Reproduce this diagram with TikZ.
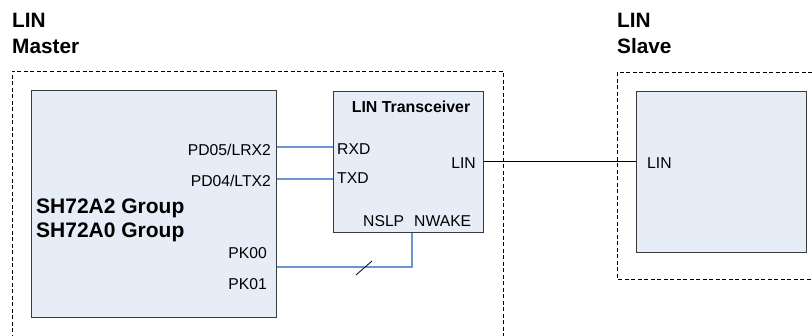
\documentclass[tikz,border=0pt]{standalone}
\usepackage{fontspec}
\setmainfont{Liberation Sans}
\definecolor{boxfill}{HTML}{E6EDF7}
\definecolor{boxline}{HTML}{3A3A3A}
\definecolor{sigblue}{HTML}{6A94D8}
\tikzset{
  blk/.style={draw=boxline, fill=boxfill, line width=0.9pt, anchor=north west, inner sep=0pt},
  grp/.style={draw=black, line width=0.8pt, dash pattern=on 4pt off 2.5pt},
  lbl/.style={inner sep=0pt, font=\fontsize{15.7}{18}\selectfont},
  head/.style={inner sep=0pt, anchor=base west, font=\fontsize{20.8}{24}\selectfont\bfseries},
  grptxt/.style={inner sep=0pt, anchor=base west, font=\fontsize{21}{24}\selectfont\bfseries},
  sig/.style={draw=sigblue, line width=1.2pt},
  bus/.style={draw=black, line width=0.8pt}
}
\begin{document}
\begin{tikzpicture}[x=1pt,y=-1pt]
\useasboundingbox (0,0) rectangle (812,335);
\clip (0,0) rectangle (812,335);
% group frames
\draw[grp] (12,345) -- (12,71) -- (503,71) -- (503,345);
\draw[grp] (830,279) -- (617,279) -- (617,72) -- (830,72);
% headings
\node[head] (hlin1) at (12,27) {LIN};
\node[head] (hmaster) at (12,53) {Master};
\node[head] (hlin2) at (617,27) {LIN};
\node[head] (hslave) at (617,53) {Slave};
% blocks
\node[blk, minimum width=245pt, minimum height=227pt] (mcu) at (31,90) {};
\node[blk, minimum width=150pt, minimum height=141pt] (trx) at (333,91) {};
\node[blk, minimum width=170pt, minimum height=161pt] (slv) at (636,91) {};
% MCU texts
\node[grptxt] (g1) at (36,213) {SH72A2 Group};
\node[grptxt] (g2) at (36,237) {SH72A0 Group};
\node[lbl, anchor=base east] (pd05) at (271,155) {PD05/LRX2};
\node[lbl, anchor=base east] (pd04) at (271,186) {PD04/LTX2};
\node[lbl, anchor=base east] (pk00) at (267,258) {PK00};
\node[lbl, anchor=base east] (pk01) at (267,289) {PK01};
% transceiver texts
\node[inner sep=0pt, anchor=base, font=\fontsize{15.9}{18}\selectfont\bfseries] (ttl) at (411,112) {LIN Transceiver};
\node[lbl, anchor=base west] (rxd) at (337,154) {RXD};
\node[lbl, anchor=base west] (txd) at (337,183) {TXD};
\node[lbl, anchor=base east] (tlin) at (476,168) {LIN};
\node[lbl, anchor=base west] (nslp) at (363,226) {NSLP};
\node[lbl, anchor=base west] (nwake) at (414,226) {NWAKE};
% slave text
\node[lbl, anchor=base west] (slin) at (647,168) {LIN};
% pin coordinates
\coordinate (rxy) at (0,147);
\coordinate (txy) at (0,179);
\coordinate (pky) at (0,267);
\coordinate (nwx) at (412,0);
\coordinate (liny) at (0,161);
% connectors
\draw[sig] (mcu.east |- rxy) -- (trx.west |- rxy);
\draw[sig] (mcu.east |- txy) -- (trx.west |- txy);
\draw[sig] (mcu.east |- pky) -- (nwx |- pky) -- (nwx |- trx.south);
\draw[bus] (trx.east |- liny) -- (slv.west |- liny);
% bus slash
\coordinate (sl) at (364,268);
\draw[black, line width=0.8pt] ([shift={(-8,7)}]sl) -- ([shift={(8,-7)}]sl);
\end{tikzpicture}
\end{document}
